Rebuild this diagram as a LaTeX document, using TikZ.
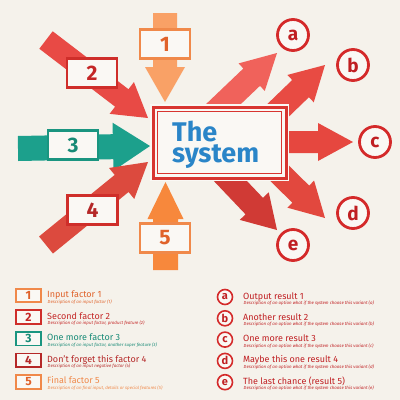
\documentclass[tikz,border=0pt]{standalone}
\usepackage{fontspec}
\setmainfont{Fira Sans}
\usetikzlibrary{calc}
\definecolor{bg}{HTML}{F5F2EB}
\definecolor{boxw}{HTML}{FAF8F4}
\definecolor{orA}{HTML}{F9A166}
\definecolor{orB}{HTML}{F0894A}
\definecolor{orT}{HTML}{E0622A}
\definecolor{or5}{HTML}{F7883C}
\definecolor{rdA}{HTML}{E84A45}
\definecolor{rdB}{HTML}{CF2E2A}
\definecolor{rdT}{HTML}{C42626}
\definecolor{rd4}{HTML}{DC4A3E}
\definecolor{rd4T}{HTML}{B52828}
\definecolor{tlA}{HTML}{1CA08C}
\definecolor{tlB}{HTML}{1A9580}
\definecolor{tlT}{HTML}{178A76}
\definecolor{outa}{HTML}{F0625B}
\definecolor{outb}{HTML}{E84B43}
\definecolor{outc}{HTML}{E6473F}
\definecolor{outd}{HTML}{E2483E}
\definecolor{oute}{HTML}{D03A35}
\definecolor{crc}{HTML}{D42A2A}
\definecolor{crcT}{HTML}{C01F22}
\definecolor{sysblue}{HTML}{2A85C8}
\definecolor{frame}{HTML}{D83530}
\newcommand{\bigarrow}[6]{%
  \coordinate (arrneck) at ($(#2)!#5!(#1)$);
  \fill[#6] ($(#1)!#3!90:(#2)$) -- ($(arrneck)!#3!90:(#2)$) -- ($(arrneck)!#4!90:(#2)$) -- (#2)
     -- ($(arrneck)!#4!-90:(#2)$) -- ($(arrneck)!#3!-90:(#2)$) -- ($(#1)!#3!-90:(#2)$) -- cycle;
}
\tikzset{
  lbox/.style={draw=#1, line width=2.5pt, fill=boxw, minimum width=50pt, minimum height=29pt, inner sep=0pt, font=\fontsize{21}{21}\selectfont\bfseries},
  circ/.style={circle, draw=crc, line width=2.8pt, fill=boxw, minimum size=31pt, inner sep=0pt, text=crcT, font=\fontsize{19}{19}\selectfont\bfseries},
  legbox/.style={draw=#1, line width=1.8pt, fill=boxw, minimum width=25pt, minimum height=13.5pt, inner sep=0pt, font=\fontsize{12}{12}\selectfont\bfseries},
  legcirc/.style={circle, draw=crc, line width=1.6pt, fill=boxw, minimum size=15pt, inner sep=0pt, text=crcT, font=\fontsize{11}{11}\selectfont\bfseries},
  legtitle/.style={anchor=base west, inner sep=0pt, font=\fontsize{9}{9}\selectfont},
  legdesc/.style={anchor=base west, inner sep=0pt, font=\fontsize{4.4}{4.4}\selectfont\itshape},
  systext/.style={anchor=north west, inner sep=0pt, align=left, text=sysblue, font=\fontsize{27}{20.5}\selectfont\bfseries}
}
\begin{document}
\begin{tikzpicture}[x=1pt,y=-1pt]
\fill[bg] (0,0) rectangle (400,400);
\useasboundingbox (0,0) rectangle (400,400);

% output arrows (behind the system box)
\coordinate (ta) at (212,115); \coordinate (pa) at (277,53);
\coordinate (tb) at (266,122); \coordinate (pb) at (325,65);
\coordinate (tc) at (265,142); \coordinate (pc) at (353,142);
\coordinate (td) at (262,156); \coordinate (pd) at (325,218);
\coordinate (te) at (218,168); \coordinate (pe) at (277,230);
\bigarrow{ta}{pa}{12pt}{19pt}{35pt}{outa}
\bigarrow{tb}{pb}{12pt}{19pt}{34pt}{outb}
\bigarrow{tc}{pc}{11pt}{19pt}{35pt}{outc}
\bigarrow{td}{pd}{12pt}{19pt}{34pt}{outd}
\bigarrow{te}{pe}{12pt}{20pt}{33pt}{oute}

% system box
\fill[boxw] (150,104) rectangle (289,181);
\draw[frame, line width=3pt, fill=boxw] (153,107) rectangle (286,178);
\draw[frame, line width=0.8pt] (157.5,111.5) rectangle (281.5,173.5);
\node[systext] (sys) at (172,121) {The\\system};

% input arrows
\coordinate (t1) at (165,13); \coordinate (p1) at (165,102);
\bigarrow{t1}{p1}{12pt}{20pt}{35pt}{orA}
\node[lbox=orB, text=orT] (l1) at (165,44) {1};

\coordinate (t2) at (46,40); \coordinate (p2) at (148,118);
\bigarrow{t2}{p2}{11pt}{20pt}{33pt}{rdA}
\node[lbox=rdB, text=rdT] (l2) at (92,73) {2};

\coordinate (t3) at (18,148.5); \coordinate (p3) at (150,146);
\bigarrow{t3}{p3}{12.5pt}{24pt}{37pt}{tlA}
\node[lbox=tlB, text=tlT] (l3) at (73,145) {3};

\coordinate (t4) at (46,245); \coordinate (p4) at (148,162);
\bigarrow{t4}{p4}{11pt}{20pt}{34pt}{rd4}
\node[lbox=rdB, text=rd4T] (l4) at (92.5,210) {4};

\coordinate (t5) at (165.5,270); \coordinate (p5) at (165.5,182);
\bigarrow{t5}{p5}{12.5pt}{18pt}{37pt}{or5}
\node[lbox=orB, text=orT] (l5) at (165,238) {5};

% result circles
\node[circ] (ca) at (293,35) {a};
\node[circ] (cb) at (353,65) {b};
\node[circ] (cc) at (375,142) {c};
\node[circ] (cd) at (353,213) {d};
\node[circ] (ce) at (293,245) {e};

% legend left
\node[legbox=orB, text=orT] (k1) at (28.5,295.5) {1};
\node[legtitle, text=orT] (k1t) at (47,297.5) {Input factor 1};
\node[legdesc, text=orT] (k1d) at (47.5,303) {Description of an input factor (1)};

\node[legbox=rdB, text=rdT] (k2) at (28.5,317.1) {2};
\node[legtitle, text=rdT] (k2t) at (47,319.1) {Second factor 2};
\node[legdesc, text=rdT] (k2d) at (47.5,324.6) {Description of an input factor, product feature (2)};

\node[legbox=tlB, text=tlT] (k3) at (28.5,338.7) {3};
\node[legtitle, text=tlT] (k3t) at (47,340.7) {One more factor 3};
\node[legdesc, text=tlT] (k3d) at (47.5,346.2) {Description of an input factor, another super feature (3)};

\node[legbox=rd4T, text=rd4T] (k4) at (28.5,360.3) {4};
\node[legtitle, text=rd4T] (k4t) at (47,362.3) {Don’t forget this factor 4};
\node[legdesc, text=rd4T] (k4d) at (47.5,367.8) {Description of an input negative factor (4)};

\node[legbox=orB, text=orT] (k5) at (28.5,381.9) {5};
\node[legtitle, text=orB] (k5t) at (47,383.9) {Final factor 5};
\node[legdesc, text=orB] (k5d) at (47.5,389.4) {Description of an final input, details or special features (5)};

% legend right
\node[legcirc] (ka) at (225,297) {a};
\node[legtitle, text=crcT] (kat) at (243,299) {Output result 1};
\node[legdesc, text=crcT] (kad) at (243.5,304.5) {Description of an option what if the system choose this variant (a)};

\node[legcirc] (kb) at (225,318.3) {b};
\node[legtitle, text=crcT] (kbt) at (243,320.3) {Another result 2};
\node[legdesc, text=crcT] (kbd) at (243.5,325.8) {Description of an option what if the system choose this variant (b)};

\node[legcirc] (kc) at (225,339.6) {c};
\node[legtitle, text=crcT] (kct) at (243,341.6) {One more result 3};
\node[legdesc, text=crcT] (kcd) at (243.5,347.1) {Description of an option what if the system choose this variant (c)};

\node[legcirc] (kd) at (225,360.9) {d};
\node[legtitle, text=crcT] (kdt) at (243,362.9) {Maybe this one result 4};
\node[legdesc, text=crcT] (kdd) at (243.5,368.4) {Description of an option what if the system choose this variant (d)};

\node[legcirc] (ke) at (225,382.2) {e};
\node[legtitle, text=crcT] (ket) at (243,384.2) {The last chance (result 5)};
\node[legdesc, text=crcT] (ked) at (243.5,389.7) {Description of an option what if the system choose this variant (e)};
\end{tikzpicture}
\end{document}
